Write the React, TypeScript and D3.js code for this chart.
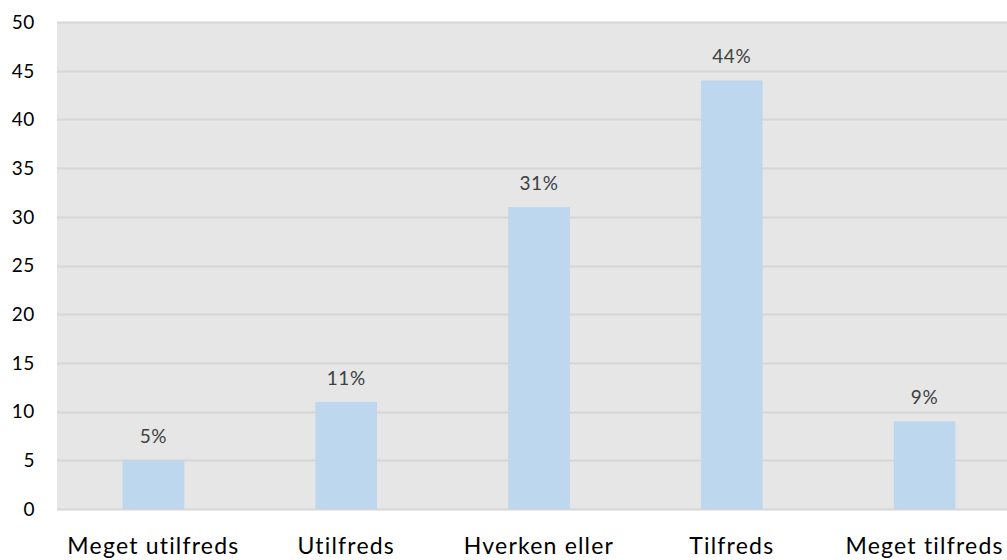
import React, { useRef, useEffect } from 'react';
import * as d3 from 'd3';

const categories = ['Meget utilfreds', 'Utilfreds', 'Hverken eller', 'Tilfreds', 'Meget tilfreds'];
const values = [5, 11, 31, 44, 9];
const labels = ['5%', '11%', '31%', '44%', '9%'];
const yTicks = [0, 5, 10, 15, 20, 25, 30, 35, 40, 45, 50];

const width = 1007;
const height = 560;
const margin = { top: 22, right: -14, bottom: 51, left: 57 };
const font = 'Lato, "Open Sans", sans-serif';

const App: React.FC = () => {
  const ref = useRef<SVGSVGElement>(null);

  useEffect(() => {
    const svg = d3.select(ref.current);
    svg.selectAll('*').remove();

    const x = d3
      .scaleBand()
      .domain(categories)
      .range([margin.left, width - margin.right])
      .paddingInner(0.68)
      .paddingOuter(0.34);

    const y = d3
      .scaleLinear()
      .domain([0, 50])
      .range([height - margin.bottom, margin.top]);

    // plot background
    svg
      .append('rect')
      .attr('x', margin.left)
      .attr('y', margin.top)
      .attr('width', width - margin.right - margin.left)
      .attr('height', y(0) - margin.top)
      .attr('fill', '#e6e6e6');

    // gridlines
    svg
      .append('g')
      .selectAll('line')
      .data(yTicks)
      .join('line')
      .attr('x1', margin.left)
      .attr('x2', width - margin.right)
      .attr('y1', (d) => Math.round(y(d)) + 0.5)
      .attr('y2', (d) => Math.round(y(d)) + 0.5)
      .attr('stroke', '#d6d6d6')
      .attr('stroke-width', 2);

    // y axis labels
    svg
      .append('g')
      .selectAll('text')
      .data(yTicks)
      .join('text')
      .attr('x', 35)
      .attr('y', (d) => y(d))
      .attr('dy', '0.36em')
      .attr('text-anchor', 'end')
      .attr('font-family', font)
      .attr('font-size', 19)
      .attr('letter-spacing', 0.6)
      .attr('fill', '#000')
      .text((d) => d);

    // bars
    svg
      .append('g')
      .selectAll('rect')
      .data(values)
      .join('rect')
      .attr('x', (d, i) => x(categories[i]) ?? 0)
      .attr('y', (d) => y(d))
      .attr('width', x.bandwidth())
      .attr('height', (d) => y(0) - y(d))
      .attr('fill', '#bdd7ee');

    // data labels
    svg
      .append('g')
      .selectAll('text')
      .data(values)
      .join('text')
      .attr('x', (d, i) => (x(categories[i]) ?? 0) + x.bandwidth() / 2)
      .attr('y', (d) => y(d) - 17)
      .attr('text-anchor', 'middle')
      .attr('font-family', font)
      .attr('font-size', 19)
      .attr('letter-spacing', 0.6)
      .attr('fill', '#404040')
      .text((d, i) => labels[i]);

    // category labels
    svg
      .append('g')
      .selectAll('text')
      .data(categories)
      .join('text')
      .attr('x', (d) => (x(d) ?? 0) + x.bandwidth() / 2)
      .attr('y', 554)
      .attr('text-anchor', 'middle')
      .attr('font-family', font)
      .attr('font-size', 23)
      .attr('letter-spacing', 1.2)
      .attr('fill', '#000')
      .text((d) => d);
  }, []);

  return (
    <svg
      ref={ref}
      width={width}
      height={height}
      style={{ position: 'absolute', left: 0, top: 0, background: '#fff' }}
    />
  );
};

export default App;
